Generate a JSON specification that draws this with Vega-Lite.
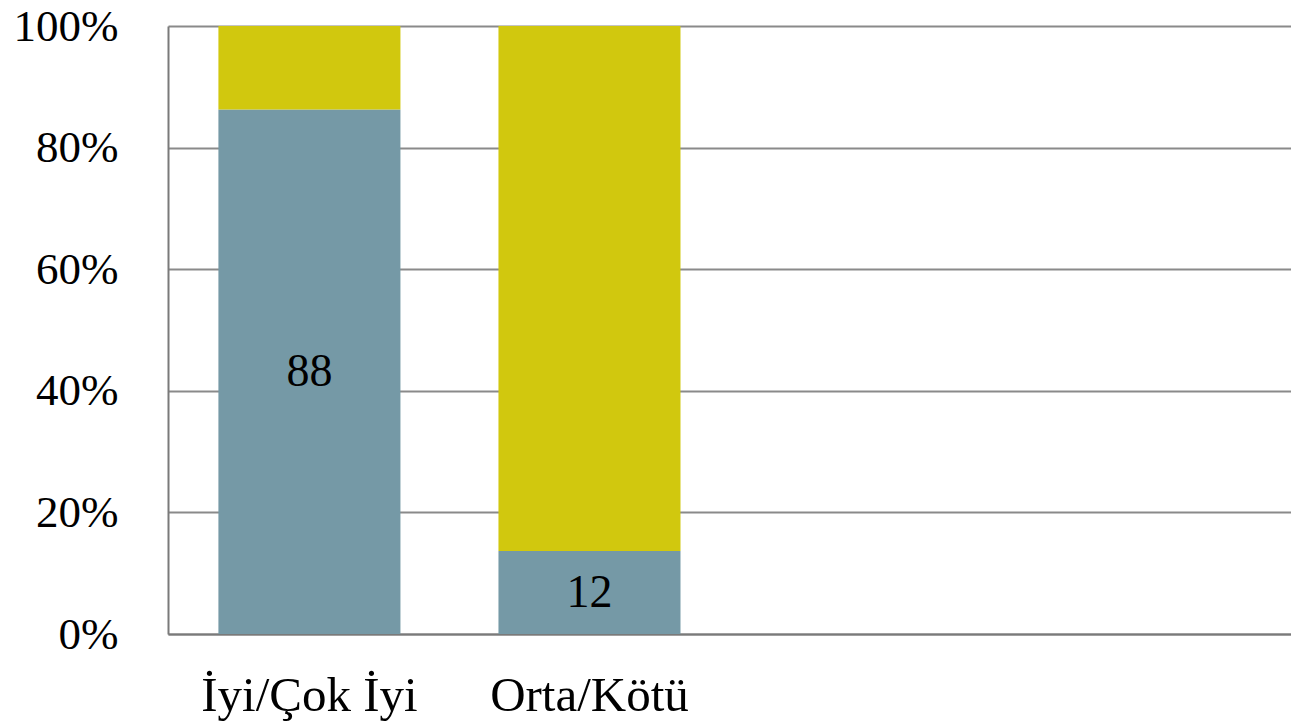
{
  "$schema": "https://vega.github.io/schema/vega-lite/v6.json",
  "autosize": "none",
  "width": 1123,
  "height": 608,
  "padding": {"left": 168, "top": 26, "right": 0, "bottom": 94},
  "background": "white",
  "config": {
    "view": {"stroke": null},
    "font": "Liberation Serif"
  },
  "data": {
    "values": [
      {"kategori": "İyi/Çok İyi", "seri": "s1", "deger": 88, "etiket": "88"},
      {"kategori": "İyi/Çok İyi", "seri": "s2", "deger": 14, "etiket": ""},
      {"kategori": "Orta/Kötü", "seri": "s1", "deger": 12, "etiket": "12"},
      {"kategori": "Orta/Kötü", "seri": "s2", "deger": 76, "etiket": ""}
    ]
  },
  "encoding": {
    "x": {
      "field": "kategori",
      "type": "nominal",
      "sort": null,
      "scale": {"domain": ["İyi/Çok İyi", "Orta/Kötü", "c3", "c4"], "paddingInner": 0.35, "paddingOuter": 0.18},
      "axis": {
        "title": null,
        "labelAngle": 0,
        "labelLimit": 0,
        "labelExpr": "datum.value == 'c3' || datum.value == 'c4' ? '' : datum.value",
        "labelFont": "Liberation Serif",
        "labelFontSize": 49,
        "labelColor": "black",
        "labelPadding": 37,
        "ticks": false,
        "domainColor": "#7a7a7a",
        "domainWidth": 2,
        "grid": false
      }
    },
    "y": {
      "field": "deger",
      "type": "quantitative",
      "stack": "normalize",
      "scale": {"domain": [0, 1]},
      "axis": {
        "title": null,
        "format": ".0%",
        "values": [0, 0.2, 0.4, 0.6, 0.8, 1],
        "labelFont": "Liberation Serif",
        "labelFontSize": 45,
        "labelColor": "black",
        "labelPadding": 50,
        "ticks": false,
        "domainColor": "#7a7a7a",
        "domainWidth": 2,
        "gridColor": "#8a8a8a",
        "gridWidth": 2
      }
    },
    "order": {"field": "seri", "sort": "ascending"}
  },
  "layer": [
    {
      "mark": {"type": "bar"},
      "encoding": {
        "color": {
          "field": "seri",
          "type": "nominal",
          "scale": {"domain": ["s1", "s2"], "range": ["#7599a6", "#d1c80e"]},
          "legend": null
        }
      }
    },
    {
      "mark": {"type": "text", "font": "Liberation Serif", "fontSize": 46, "color": "black", "baseline": "middle", "align": "center"},
      "encoding": {
        "y": {"field": "deger", "type": "quantitative", "stack": "normalize", "bandPosition": 0.5},
        "text": {"field": "etiket"}
      }
    }
  ]
}
